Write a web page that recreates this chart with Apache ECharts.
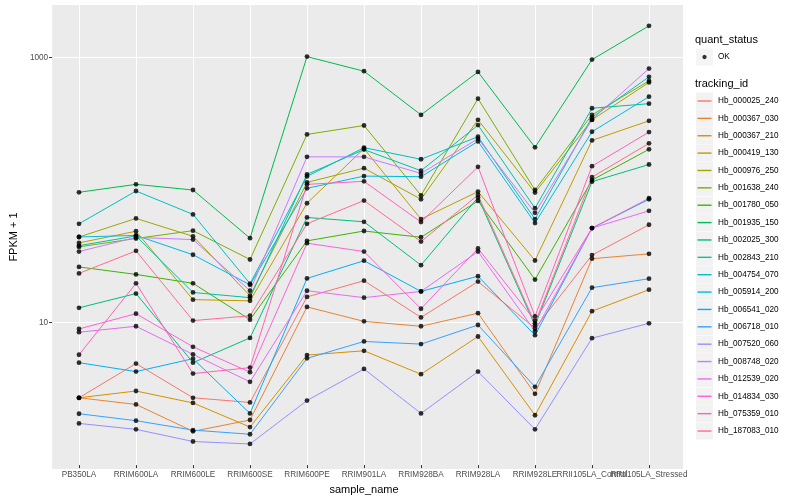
<!DOCTYPE html>
<html><head><meta charset="utf-8">
<script src="https://cdn.jsdelivr.net/npm/echarts@6/dist/echarts.min.js"></script>
<style>html,body{margin:0;padding:0;background:#fff}#c{width:800px;height:500px}</style>
</head><body><div id="c"></div>
<script>
// ---------- data ----------
const categories = ['PB350LA','RRIM600LA','RRIM600LE','RRIM600SE','RRIM600PE','RRIM901LA','RRIM928BA','RRIM928LA','RRIM928LE','RRII105LA_Control','RRII105LA_Stressed'];
const yTickLabels = [10, 1000];
const quantStatus = ['OK'];
const trackingIds = ['Hb_000025_240','Hb_000367_030','Hb_000367_210','Hb_000419_130','Hb_000976_250','Hb_001638_240','Hb_001780_050','Hb_001935_150','Hb_002025_300','Hb_002843_210','Hb_004754_070','Hb_005914_200','Hb_006541_020','Hb_006718_010','Hb_007520_060','Hb_008748_020','Hb_012539_020','Hb_014834_030','Hb_075359_010','Hb_187083_010'];

const Hb_000025_240 = [2.54, 4.63, 2.54, 2.34, 14.9, 19.8, 10.4, 19.5, 8.6, 31.0, 52.8];
const Hb_000367_030 = [2.54, 2.26, 1.41, 1.72, 12.5, 9.7, 8.9, 11.2, 2.72, 29.1, 31.7];
const Hb_000367_210 = [2.54, 2.86, 2.32, 1.52, 5.37, 5.79, 3.84, 7.44, 1.87, 11.6, 16.9];
const Hb_000419_130 = [38.4, 47.1, 14.2, 13.9, 77.0, 200.6, 58.3, 94.4, 28.2, 231.8, 326.6];
const Hb_000976_250 = [42.6, 59.0, 43.1, 15.2, 111.0, 142.4, 82.6, 332.3, 92.8, 332.0, 640.6];
const Hb_001638_240 = [35.8, 41.5, 47.6, 28.7, 257.3, 300.9, 88.5, 481.5, 97.1, 362.5, 658.6];
const Hb_001780_050 = [25.2, 22.1, 18.9, 10.0, 39.8, 47.3, 42.4, 80.2, 20.2, 115.5, 198.2];
const Hb_001935_150 = [93.3, 107.2, 97.1, 41.7, 1007, 779.8, 362.5, 770.3, 205.2, 955.6, 1727];
const Hb_002025_300 = [12.3, 15.8, 4.70, 7.26, 60.0, 55.6, 26.0, 85.1, 9.05, 112.4, 151.9];
const Hb_002843_210 = [36.6, 43.4, 16.1, 14.7, 127.6, 197.2, 136.1, 303.0, 70.6, 407.4, 441.2];
const Hb_004754_070 = [53.7, 95.4, 63.3, 18.8, 123.2, 204.1, 166.5, 247.2, 58.3, 347.1, 706.2];
const Hb_005914_200 = [42.6, 43.8, 31.2, 18.4, 100.0, 123.9, 122.6, 227.8, 54.4, 269.7, 498.6];
const Hb_006541_020 = [4.70, 4.02, 5.04, 1.93, 20.6, 28.1, 16.4, 21.4, 7.61, 49.8, 82.6];
const Hb_006718_010 = [1.92, 1.70, 1.44, 1.34, 5.07, 6.82, 6.51, 9.10, 3.08, 17.5, 20.5];
const Hb_007520_060 = [1.62, 1.46, 1.18, 1.13, 2.42, 4.21, 1.93, 4.02, 1.46, 7.22, 9.38];
const Hb_008748_020 = [33.0, 42.3, 40.7, 16.6, 173.6, 173.6, 129.9, 238.8, 65.1, 334.1, 817.3];
const Hb_012539_020 = [8.02, 8.90, 5.44, 3.36, 16.6, 14.7, 16.4, 33.0, 8.16, 49.8, 67.4];
const Hb_014834_030 = [8.49, 11.1, 6.21, 3.98, 38.2, 33.0, 12.1, 34.8, 9.83, 49.8, 84.0];
const Hb_075359_010 = [5.40, 18.9, 3.88, 4.31, 107.2, 113.0, 55.3, 145.9, 10.6, 147.4, 268.3];
const Hb_187083_010 = [22.5, 33.4, 9.83, 10.7, 53.7, 80.7, 39.3, 89.0, 9.38, 121.7, 220.0];

const seriesValues = [Hb_000025_240, Hb_000367_030, Hb_000367_210, Hb_000419_130, Hb_000976_250, Hb_001638_240, Hb_001780_050, Hb_001935_150, Hb_002025_300, Hb_002843_210, Hb_004754_070, Hb_005914_200, Hb_006541_020, Hb_006718_010, Hb_007520_060, Hb_008748_020, Hb_012539_020, Hb_014834_030, Hb_075359_010, Hb_187083_010];

// ---------- style ----------
const palette = ['#F8766D','#EA8331','#D89000','#C09B00','#A3A500','#7CAE00','#39B600','#00BB4E','#00BF7D','#00C1A3','#00BFC4','#00BAE0','#00B0F6','#35A2FF','#9590FF','#C77CFF','#E76BF3','#FA62DB','#FF62BC','#FF6C91'];
const FONT = '"Liberation Sans", Arial, Helvetica, sans-serif';
const Y_MIN = 0.78, Y_MAX = 2490;
const lineIcon = 'path://M0,0 M17,17 M1.5,7.8 L15.5,7.8 L15.5,9.2 L1.5,9.2 Z';
const dotIcon = 'path://M0,0 M17,17 M8.5,6.3 L10.1,6.9 L10.7,8.5 L10.1,10.1 L8.5,10.7 L6.9,10.1 L6.3,8.5 L6.9,6.9 Z';

const lineSeries = trackingIds.map((id, i) => ({
  name: id, type: 'line', xAxisIndex: 1, yAxisIndex: 1,
  data: seriesValues[i], symbol: 'none', showSymbol: false,
  lineStyle: {color: palette[i], width: 1}, itemStyle: {color: palette[i]},
  z: 2, silent: true
}));
const pointData = [];
seriesValues.forEach(vals => vals.forEach((v, j) => pointData.push([categories[j], v])));
const pointSeries = {
  name: quantStatus[0], type: 'scatter', xAxisIndex: 1, yAxisIndex: 1,
  data: pointData, symbol: 'circle', symbolSize: 4.8,
  itemStyle: {color: '#000'}, z: 3, silent: true
};

const legendBase = {orient: 'vertical', left: 696, itemWidth: 17, itemHeight: 17, itemGap: 0.37, selectedMode: false, padding: 0};
const legendText = {fontSize: 8.2, fontFamily: FONT};

const option = {
  animation: false,
  backgroundColor: '#fff',
  textStyle: {fontFamily: FONT},
  title: [
    {text: 'quant_status', left: 695, top: 34, padding: 0, textStyle: {fontSize: 11, fontWeight: 'normal', color: '#000', fontFamily: FONT}},
    {text: 'tracking_id', left: 695, top: 78, padding: 0, textStyle: {fontSize: 11, fontWeight: 'normal', color: '#000', fontFamily: FONT}}
  ],
  legend: [
    Object.assign({}, legendBase, {data: quantStatus, top: 48.5, icon: 'rect', itemStyle: {color: '#F2F2F2', borderWidth: 0}, textStyle: Object.assign({color: 'rgba(0,0,0,0)'}, legendText), z: 4}),
    Object.assign({}, legendBase, {data: quantStatus, top: 48.5, icon: dotIcon, itemStyle: {borderWidth: 0}, textStyle: Object.assign({color: '#000'}, legendText), z: 5}),
    Object.assign({}, legendBase, {data: trackingIds, top: 92.5, icon: 'rect', itemStyle: {color: '#F2F2F2', borderWidth: 0}, textStyle: Object.assign({color: 'rgba(0,0,0,0)'}, legendText), z: 4}),
    Object.assign({}, legendBase, {data: trackingIds, top: 92.5, icon: lineIcon, itemStyle: {borderWidth: 0}, textStyle: Object.assign({color: '#000'}, legendText), z: 5})
  ],
  grid: [
    {left: 45, right: 117, top: 5, bottom: 31, show: true, backgroundColor: '#EBEBEB', borderWidth: 0},
    {left: 79, right: 151, top: 5, bottom: 31}
  ],
  xAxis: [
    {gridIndex: 0, type: 'value', show: false, min: 0, max: 1},
    {gridIndex: 1, type: 'category', data: categories, boundaryGap: false,
     axisLine: {show: false},
     axisTick: {show: true, length: 3, lineStyle: {color: '#333', width: 1}},
     axisLabel: {interval: 0, fontSize: 8.2, color: '#4D4D4D', margin: 6, fontFamily: FONT},
     splitLine: {show: true, lineStyle: {color: '#fff', width: 1}},
     name: 'sample_name', nameLocation: 'middle', nameGap: 14,
     nameTextStyle: {fontSize: 11, color: '#000', fontFamily: FONT}}
  ],
  yAxis: [
    {gridIndex: 0, type: 'log', min: Y_MIN, max: Y_MAX,
     axisLine: {show: false},
     axisTick: {show: true, length: 3, customValues: yTickLabels, lineStyle: {color: '#333', width: 1}},
     axisLabel: {customValues: yTickLabels, fontSize: 8.2, color: '#4D4D4D', margin: 4, fontFamily: FONT,
       formatter: v => { const r = Math.round(v); return yTickLabels.indexOf(r) >= 0 ? String(r) : ''; }},
     splitLine: {show: true, lineStyle: {color: '#fff', width: 1}},
     name: 'FPKM + 1', nameLocation: 'middle', nameGap: 28,
     nameTextStyle: {fontSize: 11, color: '#000', fontFamily: FONT}},
    {gridIndex: 1, type: 'log', min: Y_MIN, max: Y_MAX, show: false, splitLine: {show: false}}
  ],
  series: lineSeries.concat([pointSeries])
};
const chart = echarts.init(document.getElementById('c'), null, {renderer: 'canvas'});
chart.setOption(option);
</script></body></html>
